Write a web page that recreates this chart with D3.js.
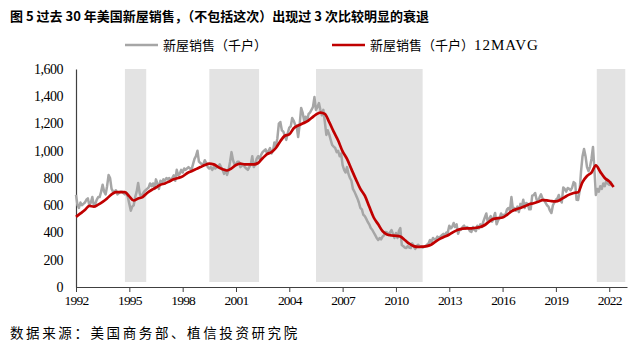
<!DOCTYPE html>
<html>
<head>
<meta charset="utf-8">
<script src="https://cdn.jsdelivr.net/npm/d3@7"></script>
<style>
  body { margin: 0; background: #fff; }
  svg { display: block; }
</style>
</head>
<body>
<svg id="chart" width="640" height="353"></svg>
<script>
// 新屋销售，月度，千户（1992年1月起）
const salesMonthly = [
  676, 600, 580, 620, 600, 610, 620, 640, 650, 600, 620, 660,   // 1992
  600, 610, 640, 660, 660, 700, 750, 700, 680, 740, 822, 800,   // 1993
  720, 700, 700, 710, 680, 690, 700, 700, 690, 680, 690, 660,   // 1994
  610, 560, 590, 600, 660, 700, 763, 690, 660, 680, 700, 710,   // 1995
  720, 730, 760, 740, 760, 720, 790, 760, 720, 780, 760, 790,   // 1996
  780, 800, 790, 800, 780, 800, 820, 780, 860, 820, 830, 860,   // 1997
  840, 870, 860, 870, 880, 870, 860, 900, 940, 960, 1000, 920,  // 1998
  910, 900, 900, 930, 910, 880, 870, 880, 860, 880, 870, 880,   // 1999
  880, 900, 880, 860, 830, 860, 822, 860, 920, 990, 930, 900,   // 2000
  900, 920, 920, 880, 890, 900, 880, 870, 860, 880, 900, 960,   // 2001
  880, 900, 940, 960, 940, 970, 990, 1000, 1010, 980, 1000, 1020, // 2002
  980, 1000, 1060, 1040, 1090, 1200, 1211, 1150, 1140, 1110, 1080, 1130, // 2003
  1170, 1180, 1240, 1220, 1190, 1180, 1101, 1190, 1314, 1280, 1220, 1250, // 2004
  1220, 1270, 1280, 1300, 1320, 1394, 1300, 1320, 1350, 1300, 1260, 1300, // 2005
  1211, 1116, 1150, 1120, 1080, 1042, 1030, 1020, 990, 1000, 960, 980, // 2006
  895, 860, 840, 880, 830, 800, 780, 720, 700, 675, 650, 620,   // 2007
  580, 570, 530, 520, 500, 477, 460, 433, 420, 400, 380, 360,   // 2008
  345, 360, 350, 370, 380, 404, 400, 382, 400, 418, 390, 360,   // 2009
  396, 360, 410, 433, 308, 300, 290, 286, 300, 290, 286, 320,   // 2010
  300, 280, 300, 310, 300, 300, 290, 295, 300, 310, 320, 345,   // 2011
  330, 360, 350, 350, 370, 360, 370, 380, 390, 380, 400, 400,   // 2012
  450, 430, 440, 470, 440, 460, 390, 420, 420, 440, 450, 430,   // 2013
  440, 430, 410, 404, 440, 420, 410, 450, 430, 460, 440, 480,   // 2014
  510, 540, 480, 500, 520, 480, 510, 543, 460, 490, 506, 540,   // 2015
  520, 530, 530, 570, 580, 560, 660, 570, 580, 560, 590, 550,   // 2016
  610, 590, 640, 580, 616, 610, 570, 570, 670, 675, 690, 640,   // 2017
  630, 660, 680, 650, 640, 620, 600, 590, 560, 543, 600, 620,   // 2018
  640, 650, 675, 640, 620, 730, 720, 700, 727, 720, 710, 730,   // 2019
  770, 760, 640, 638, 700, 850, 960, 1013, 960, 880, 850, 880,  // 2020
  940, 1028, 870, 675, 720, 700, 740, 720, 760, 740, 780, 760,  // 2021
  750, 770, 740                                                 // 2022
];

// 12个月移动平均，按季度读取（1992Q1起）
const salesMA = [
  515, 540, 565, 595,     // 1992
  590, 605, 625, 650,     // 1993
  680, 697, 697, 697,     // 1994
  665, 635, 650, 660,     // 1995
  690, 712, 730, 750,     // 1996
  760, 775, 790, 800,     // 1997
  812, 835, 850, 865,     // 1998
  880, 895, 905, 900,     // 1999
  880, 865, 855, 870,     // 2000
  895, 905, 900, 900,     // 2001
  900, 910, 945, 975,     // 2002
  990, 1020, 1070, 1110,  // 2003
  1120, 1165, 1185, 1200, // 2004
  1215, 1240, 1265, 1280, // 2005
  1270, 1210, 1140, 1075, // 2006
  995, 940, 865, 790,     // 2007
  720, 670, 590, 510,     // 2008
  460, 410, 385, 378,     // 2009
  376, 370, 345, 318,     // 2010
  300, 294, 296, 300,     // 2011
  312, 335, 355, 370,     // 2012
  385, 405, 420, 428,     // 2013
  430, 430, 435, 440,     // 2014
  455, 480, 500, 505,     // 2015
  510, 530, 555, 570,     // 2016
  580, 592, 608, 615,     // 2017
  625, 638, 636, 630,     // 2018
  628, 640, 660, 678,     // 2019
  690, 695, 770, 815,     // 2020
  840, 893, 845, 800,     // 2021
  775, 734                // 2022
];

// 衰退阴影区间（年份，小数）
const shadeStart = [1994.75, 1999.5, 2005.5, 2021.3];
const shadeEnd   = [1995.95, 2002.3, 2011.5, 2022.9];

const yTicks = [0, 200, 400, 600, 800, 1000, 1200, 1400, 1600];
const xTickYears = [1992, 1995, 1998, 2001, 2004, 2007, 2010, 2013, 2016, 2019, 2022];

const titleText = "图 5 过去 30 年美国新屋销售，（不包括这次）出现过 3 次比较明显的衰退";
const legendNames = ["新屋销售（千户）", "新屋销售（千户）"];
const legendSuffix = ["", "12MAVG"];
const sourceText = "数据来源：美国商务部、植信投资研究院";

const SERIF = "'Liberation Serif', 'DejaVu Serif', serif";
const CJK = "'Noto Sans CJK SC', sans-serif";

const start = new Date(1992, 0, 1);
const salesData = salesMonthly.map((v, i) => ({ date: d3.timeMonth.offset(start, i), value: v }));
const maData = salesMA.map((v, i) => ({ date: d3.timeMonth.offset(start, i * 3), value: v }));

function yearToDate(y) {
    const yr = Math.floor(y);
    return d3.timeDay.offset(new Date(yr, 0, 1), Math.round((y - yr) * 365));
}

const svg = d3.select("#chart");
const plot = { left: 76, right: 627, top: 69, bottom: 287 };

const xScale = d3.scaleTime()
    .domain([new Date(1992, 0, 1), new Date(2023, 0, 1)])
    .range([plot.left, plot.right]);
const yScale = d3.scaleLinear()
    .domain([0, 1600])
    .range([plot.bottom, plot.top]);

// shaded periods
svg.append("g").selectAll("rect")
    .data(shadeStart.map((s, i) => [s, shadeEnd[i]]))
    .enter().append("rect")
    .attr("x", d => xScale(yearToDate(d[0])))
    .attr("width", d => xScale(yearToDate(d[1])) - xScale(yearToDate(d[0])))
    .attr("y", plot.top)
    .attr("height", plot.bottom - 5 - plot.top)
    .attr("fill", "#e3e3e3");

// y axis
const yAxis = svg.append("g")
    .attr("transform", `translate(${plot.left},0)`)
    .call(d3.axisLeft(yScale).tickValues(yTicks).tickFormat(d3.format(",")).tickSize(0).tickPadding(13));
yAxis.select(".domain").attr("stroke", "#404040").attr("stroke-width", 1.2);
yAxis.selectAll("text")
    .attr("font-family", SERIF).attr("font-size", 14).attr("fill", "#000")
    .attr("letter-spacing", "-0.5px");

// x axis
const xAxis = svg.append("g")
    .attr("transform", `translate(0,${plot.bottom})`)
    .call(d3.axisBottom(xScale)
        .tickValues(xTickYears.map(y => new Date(y, 0, 1)))
        .tickFormat(d3.timeFormat("%Y"))
        .tickSizeInner(5).tickSizeOuter(0).tickPadding(3));
xAxis.select(".domain").attr("stroke", "#404040").attr("stroke-width", 1.2);
xAxis.selectAll(".tick line").attr("stroke", "#404040");
xAxis.selectAll("text")
    .attr("font-family", SERIF).attr("font-size", 13.5).attr("fill", "#000")
    .attr("letter-spacing", "-0.8px");

const line = d3.line()
    .x(d => xScale(d.date))
    .y(d => yScale(d.value));

svg.append("path")
    .datum(salesData)
    .attr("fill", "none")
    .attr("stroke", "#a6a6a6")
    .attr("stroke-width", 2.5)
    .attr("stroke-linejoin", "round")
    .attr("d", line);

svg.append("path")
    .datum(maData)
    .attr("fill", "none")
    .attr("stroke", "#c00000")
    .attr("stroke-width", 2.7)
    .attr("stroke-linejoin", "round")
    .attr("d", line.curve(d3.curveMonotoneX));

// title
svg.append("text")
    .attr("font-family", CJK)
    .attr("x", 10).attr("y", 21)
    .attr("font-size", 13)
    .attr("font-weight", "bold")
    .text(titleText);

// legend
const legend = svg.append("g");
const legendX = [125, 332];
const legendColors = ["#a6a6a6", "#c00000"];
legendNames.forEach((name, i) => {
    legend.append("line")
        .attr("x1", legendX[i]).attr("x2", legendX[i] + 33)
        .attr("y1", 45).attr("y2", 45)
        .attr("stroke", legendColors[i]).attr("stroke-width", 2.5);
    const t = legend.append("text")
        .attr("font-family", CJK)
        .attr("x", legendX[i] + 38).attr("y", 50)
        .attr("font-size", 13)
        .text(name);
    if (legendSuffix[i]) {
        t.append("tspan")
            .attr("font-family", SERIF)
            .attr("font-size", 15)
            .attr("letter-spacing", "1px")
            .text(legendSuffix[i]);
    }
});

// source
svg.append("text")
    .attr("font-family", CJK)
    .attr("x", 10).attr("y", 338)
    .attr("font-size", 13.5)
    .attr("letter-spacing", "2.6px")
    .text(sourceText);
</script>
</body>
</html>
